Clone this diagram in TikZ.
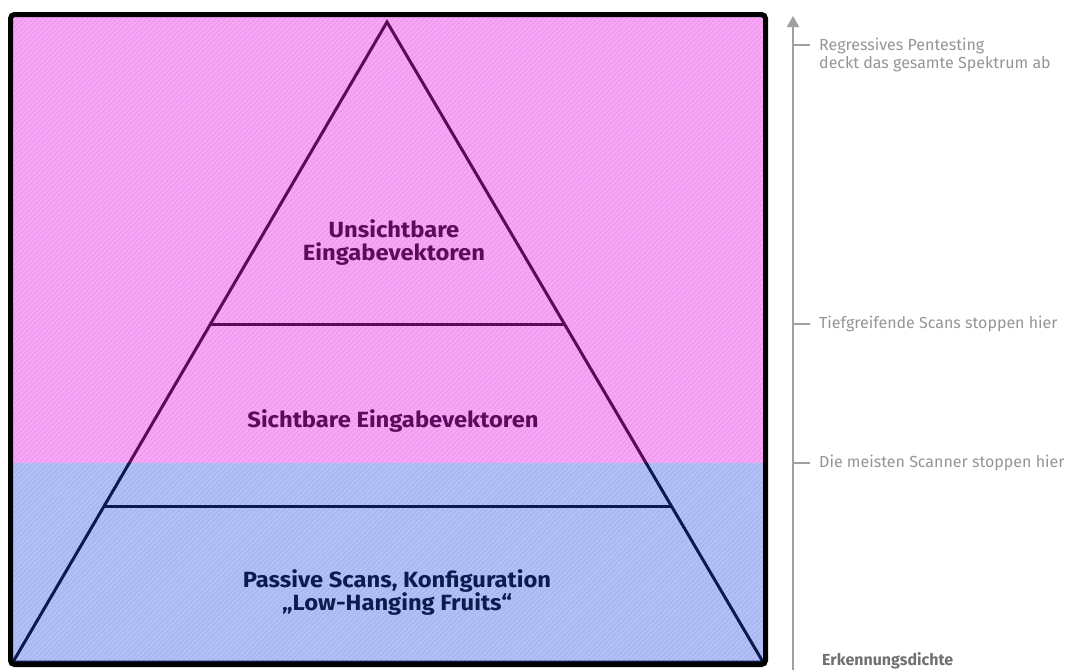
\documentclass[tikz,border=0pt]{standalone}
\usepackage{fontspec}
\setmainfont{Fira Sans}
\usetikzlibrary{patterns.meta,arrows.meta,calc}
\definecolor{pinkfill}{HTML}{F6A8F6}
\definecolor{pinkhatch}{HTML}{EE96EE}
\definecolor{bluefill}{HTML}{B2C2F8}
\definecolor{bluehatch}{HTML}{A8B1EE}
\definecolor{purpleline}{HTML}{5A0A56}
\definecolor{navyline}{HTML}{0C1A4E}
\definecolor{purpletext}{HTML}{5E0A5C}
\definecolor{navytext}{HTML}{0E1B4F}
\definecolor{axisgray}{HTML}{A0A0A0}
\definecolor{labelgray}{HTML}{959595}
\definecolor{titlegray}{HTML}{707070}
\tikzset{
  hatchpink/.style={pattern={Lines[angle=45,distance=3.5pt,line width=0.9pt]},pattern color=pinkhatch},
  hatchblue/.style={pattern={Lines[angle=45,distance=3.5pt,line width=0.9pt]},pattern color=bluehatch},
  pyr/.style={line width=3pt,line join=miter},
  tierlabel/.style={font=\fontsize{22}{23}\selectfont\bfseries,align=center,inner sep=0pt,xscale=1.08},
  sidelabel/.style={font=\fontsize{16}{18}\selectfont,text=labelgray,align=left,inner sep=0pt,anchor=west},
  axisline/.style={draw=axisgray,line width=2pt},
  tickline/.style={draw=axisgray,line width=1.5pt},
}
\begin{document}
\begin{tikzpicture}[x=1pt,y=-1pt]
\useasboundingbox (0,0) rectangle (1069,670);
% geometry
\coordinate (apex) at (387,22);
\coordinate (bl) at (13,662);
\coordinate (br) at (763,662);
\coordinate (l1) at ($(apex)!0.4734!(bl)$);
\coordinate (r1) at ($(apex)!0.4734!(br)$);
\coordinate (l2) at ($(apex)!0.7578!(bl)$);
\coordinate (r2) at ($(apex)!0.7578!(br)$);
% backgrounds
\begin{scope}
  \clip[rounded corners=4pt] (10.5,14.5) rectangle (765.5,664.5);
  \fill[pinkfill] (0,0) rectangle (770,463);
  \fill[hatchpink] (0,0) rectangle (770,463);
  \fill[bluefill] (0,463) rectangle (770,670);
  \fill[hatchblue] (0,463) rectangle (770,670);
  % pyramid, upper part
  \begin{scope}
    \clip (0,0) rectangle (770,463);
    \draw[pyr,purpleline] (bl) -- (apex) -- (br);
    \draw[pyr,purpleline] (l1) -- (r1);
  \end{scope}
  \begin{scope}
    \clip (0,463) rectangle (770,670);
    \draw[pyr,navyline] (bl) -- (apex) -- (br) -- cycle;
    \draw[pyr,navyline] (l2) -- (r2);
  \end{scope}
\end{scope}
\draw[line width=5pt,rounded corners=4pt] (10.5,14.5) rectangle (765.5,664.5);
% tier labels
\node[tierlabel,text=purpletext] (t1) at (394,243) {Unsichtbare\\Eingabevektoren};
\node[tierlabel,text=purpletext] (t2) at (393,421) {Sichtbare Eingabevektoren};
\node[tierlabel,text=navytext] (t3) at (397,593) {Passive Scans, Konfiguration\\„Low-Hanging Fruits“};
% axis
\coordinate (axbot) at (793,670);
\coordinate (axtop) at (793,16);
\draw[axisline,-{Triangle[width=12pt,length=11pt]}] (axbot) -- (axtop);
\coordinate (k1) at (793,45);
\coordinate (k2) at (793,324);
\coordinate (k3) at (793,463);
\draw[tickline] (k1) -- ++(17,0);
\draw[tickline] (k2) -- ++(17,0);
\draw[tickline] (k3) -- ++(17,0);
\node[sidelabel] (s1) at (819,55) {Regressives Pentesting\\deckt das gesamte Spektrum ab};
\node[sidelabel] (s2) at (819,324) {Tiefgreifende Scans stoppen hier};
\node[sidelabel] (s3) at (819,463) {Die meisten Scanner stoppen hier};
\node[font=\fontsize{16}{18}\selectfont\bfseries,text=titlegray,inner sep=0pt,anchor=base west] (s4) at (822,665) {Erkennungsdichte};
\end{tikzpicture}
\end{document}
